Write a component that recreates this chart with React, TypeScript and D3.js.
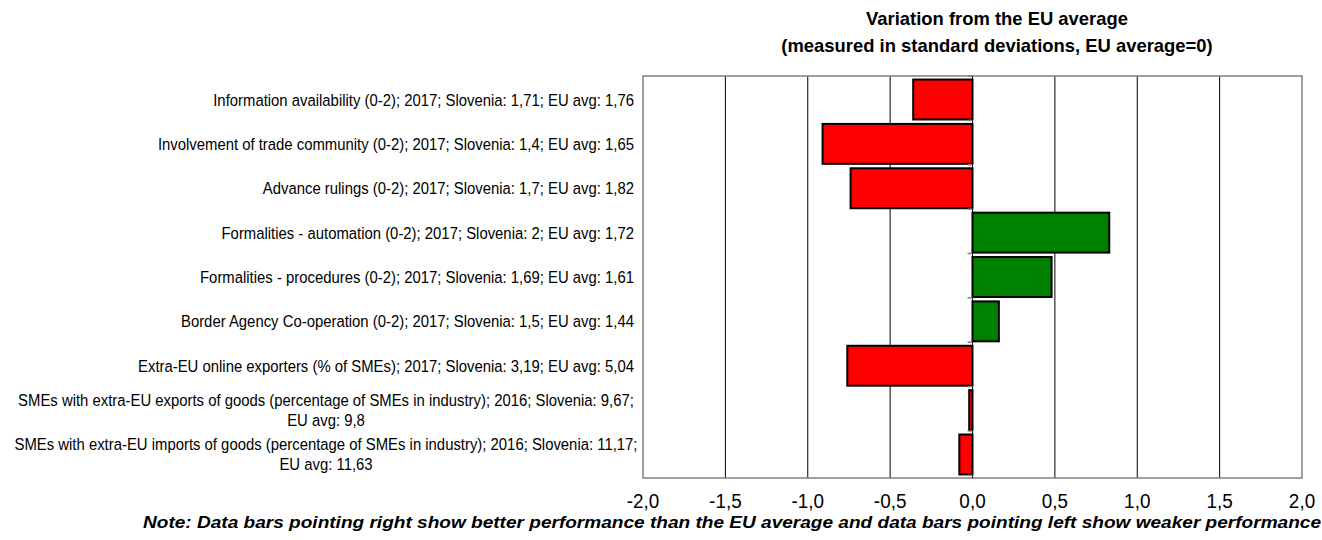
import React from "react";
import * as d3 from "d3";

const categories: string[][] = [
  ["Information availability (0-2); 2017; Slovenia: 1,71; EU avg: 1,76"],
  ["Involvement of trade community (0-2); 2017; Slovenia: 1,4; EU avg: 1,65"],
  ["Advance rulings (0-2); 2017; Slovenia: 1,7; EU avg: 1,82"],
  ["Formalities - automation (0-2); 2017; Slovenia: 2; EU avg: 1,72"],
  ["Formalities - procedures (0-2); 2017; Slovenia: 1,69; EU avg: 1,61"],
  ["Border Agency Co-operation (0-2); 2017; Slovenia: 1,5; EU avg: 1,44"],
  ["Extra-EU online exporters (% of SMEs); 2017; Slovenia: 3,19; EU avg: 5,04"],
  ["SMEs with extra-EU exports of goods (percentage of SMEs in industry); 2016; Slovenia: 9,67;", "EU avg: 9,8"],
  ["SMEs with extra-EU imports of goods (percentage of SMEs in industry); 2016; Slovenia: 11,17;", "EU avg: 11,63"],
];
const values: number[] = [-0.36, -0.91, -0.74, 0.83, 0.48, 0.16, -0.76, -0.02, -0.08];
const ticks: number[] = [-2, -1.5, -1, -0.5, 0, 0.5, 1, 1.5, 2];
const titleLines: string[] = [
  "Variation from the EU average",
  "(measured in standard deviations, EU average=0)",
];
const note =
  "Note: Data bars pointing right show better performance than the EU average and data bars pointing left show weaker performance";

if (typeof document !== "undefined") document.body.style.margin = "0";

const FONT = "'Liberation Sans Narrow', 'Arial Narrow', 'Liberation Sans', Arial, sans-serif";
const SX = 0.875;

export default function App() {
  const W = 1322, H = 540;
  const left = 643, right = 1302, top = 76, bottom = 478;
  const x = d3.scaleLinear().domain([-2, 2]).range([left, right]);
  const y = d3.scaleBand<number>().domain(d3.range(values.length)).range([top, bottom]).paddingInner(0.1).paddingOuter(0.08);
  const step = y.step();
  const fmt = (v: number) => d3.format(".1f")(v).replace(".", ",").replace("−", "-");
  return (
    <svg width={W} height={H} style={{ display: "block", fontFamily: FONT }}>
      <rect width={W} height={H} fill="#fff" />
      {titleLines.map((t, i) => (
        <text key={i} transform={`translate(997,${25 + i * 27}) scale(0.97,1)`} textAnchor="middle" fontWeight="bold" fontSize={19} fill="#000">{t}</text>
      ))}
      {ticks.filter(t => t !== 0 && Math.abs(t) !== 2).map(t => (
        <line key={t} x1={x(t)} x2={x(t)} y1={top} y2={bottom} stroke="#000" strokeWidth={1} />
      ))}
      <rect x={left} y={top} width={right - left} height={bottom - top} fill="none" stroke="#808080" strokeWidth={1.5} />
      {values.map((v, i) => (
        <rect key={i} x={x(Math.min(0, v))} y={y(i)!} width={Math.abs(x(v) - x(0))} height={y.bandwidth()}
          fill={v >= 0 ? "#008000" : "#FF0000"} stroke="#000" strokeWidth={2} />
      ))}
      <line x1={x(0)} x2={x(0)} y1={top} y2={bottom} stroke="#000" strokeWidth={1} />
      {d3.range(values.length + 1).map(i => (
        <line key={i} x1={x(0) - 5} x2={x(0)} y1={top + i * step} y2={top + i * step} stroke="#808080" strokeWidth={1.5} />
      ))}
      {categories.map((lines, i) => {
        const cy = y(i)! + y.bandwidth() / 2;
        if (lines.length === 1) {
          return <text key={i} transform={`translate(634,${cy + 6}) scale(${SX},1)`} textAnchor="end" fontSize={17} fill="#000">{lines[0]}</text>;
        }
        return (
          <g key={i}>
            {lines.map((l, j) => (
              <text key={j} transform={`translate(326,${cy - 4 + j * 20}) scale(${SX},1)`} textAnchor="middle" fontSize={17} fill="#000">{l}</text>
            ))}
          </g>
        );
      })}
      {ticks.map(t => (
        <text key={t} transform={`translate(${x(t)},508) scale(0.9,1)`} textAnchor="middle" fontSize={21} fill="#000">{fmt(t)}</text>
      ))}
      <text x={143} y={528} fontSize={17} fontWeight="bold" fontStyle="italic" fill="#000" textLength={1178} lengthAdjust="spacingAndGlyphs">{note}</text>
    </svg>
  );
}
